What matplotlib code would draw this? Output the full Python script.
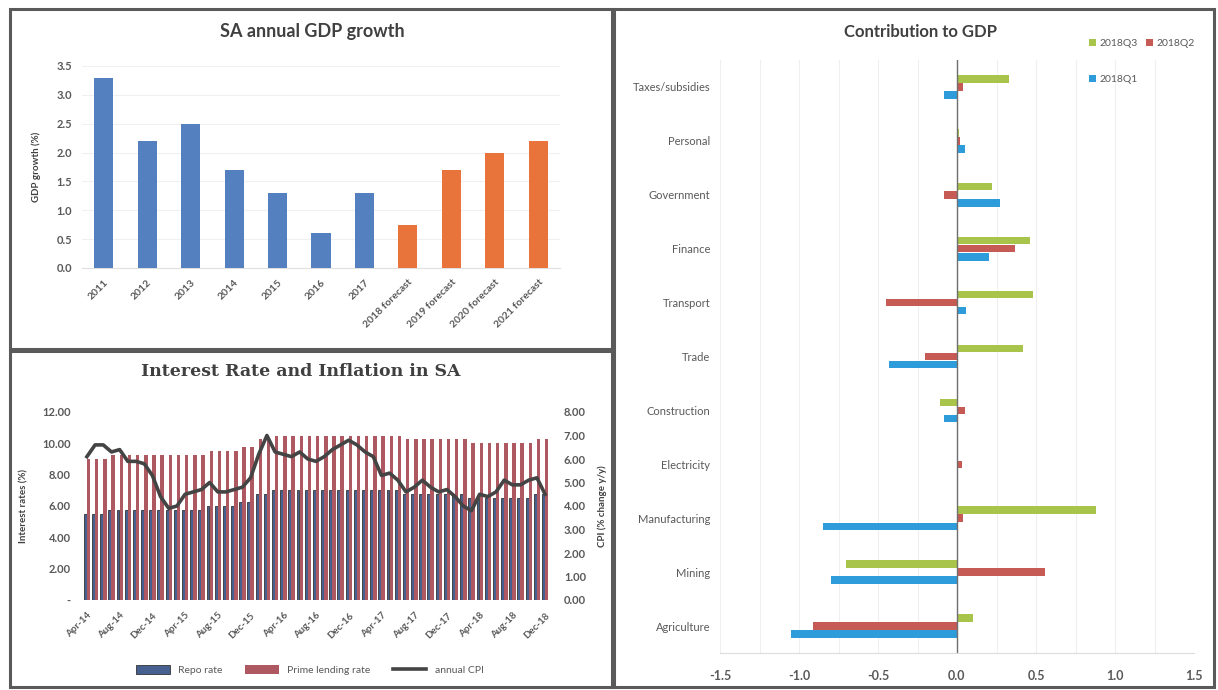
import matplotlib
matplotlib.use("Agg")
import matplotlib.pyplot as plt
import numpy as np
from matplotlib.patches import Rectangle

# ---------------- data ----------------
gdp_years = ["2011", "2012", "2013", "2014", "2015", "2016", "2017",
             "2018 forecast", "2019 forecast", "2020 forecast", "2021 forecast"]
gdp_growth = [3.3, 2.2, 2.5, 1.7, 1.3, 0.6, 1.3, 0.75, 1.7, 2.0, 2.2]
gdp_forecast = [False] * 7 + [True] * 4

# monthly, Apr-2014 .. Dec-2018
repo_rate = [5.50, 5.50, 5.50, 5.75, 5.75, 5.75, 5.75, 5.75, 5.75,
             5.75, 5.75, 5.75, 5.75, 5.75, 5.75, 6.00, 6.00, 6.00, 6.00, 6.25, 6.25,
             6.75, 6.75, 7.00, 7.00, 7.00, 7.00, 7.00, 7.00, 7.00, 7.00, 7.00, 7.00,
             7.00, 7.00, 7.00, 7.00, 7.00, 7.00, 6.75, 6.75, 6.75, 6.75, 6.75, 6.75,
             6.75, 6.75, 6.50, 6.50, 6.50, 6.50, 6.50, 6.50, 6.50, 6.50, 6.75, 6.75]
prime_rate = [9.00, 9.00, 9.00, 9.25, 9.25, 9.25, 9.25, 9.25, 9.25,
              9.25, 9.25, 9.25, 9.25, 9.25, 9.25, 9.50, 9.50, 9.50, 9.50, 9.75, 9.75,
              10.25, 10.25, 10.50, 10.50, 10.50, 10.50, 10.50, 10.50, 10.50, 10.50, 10.50, 10.50,
              10.50, 10.50, 10.50, 10.50, 10.50, 10.50, 10.25, 10.25, 10.25, 10.25, 10.25, 10.25,
              10.25, 10.25, 10.00, 10.00, 10.00, 10.00, 10.00, 10.00, 10.00, 10.00, 10.25, 10.25]
annual_cpi = [6.1, 6.6, 6.6, 6.3, 6.4, 5.9, 5.9, 5.8, 5.3,
              4.4, 3.9, 4.0, 4.5, 4.6, 4.7, 5.0, 4.6, 4.6, 4.7, 4.8, 5.2,
              6.2, 7.0, 6.3, 6.2, 6.1, 6.3, 6.0, 5.9, 6.1, 6.4, 6.6, 6.8,
              6.6, 6.3, 6.1, 5.3, 5.4, 5.1, 4.6, 4.8, 5.1, 4.8, 4.6, 4.7,
              4.4, 4.0, 3.8, 4.5, 4.4, 4.6, 5.1, 4.9, 4.9, 5.1, 5.2, 4.5]
month_labels = ["Apr-14", "Aug-14", "Dec-14", "Apr-15", "Aug-15", "Dec-15", "Apr-16",
                "Aug-16", "Dec-16", "Apr-17", "Aug-17", "Dec-17", "Apr-18", "Aug-18", "Dec-18"]

sectors = ["Agriculture", "Mining", "Manufacturing", "Electricity", "Construction",
           "Trade", "Transport", "Finance", "Government", "Personal", "Taxes/subsidies"]
contrib_q3 = [0.10, -0.70, 0.88, 0.00, -0.11, 0.42, 0.48, 0.46, 0.22, 0.01, 0.33]
contrib_q2 = [-0.91, 0.56, 0.04, 0.03, 0.05, -0.20, -0.45, 0.37, -0.08, 0.02, 0.04]
contrib_q1 = [-1.05, -0.80, -0.85, 0.00, -0.08, -0.43, 0.06, 0.20, 0.27, 0.05, -0.08]

# ---------------- figure ----------------
W, H = 1218, 690
plt.rcParams['font.family'] = ['Lato', 'DejaVu Sans']
fig = plt.figure(figsize=(W / 100, H / 100), dpi=100)
fig.patch.set_facecolor('white')

TXT = '#404040'
TICK = '#595959'


def ax_px(l, t, r, b):
    return fig.add_axes([l / W, 1 - b / H, (r - l) / W, (b - t) / H])


def ftext(x, y, s, **kw):
    return fig.text(x / W, 1 - y / H, s, **kw)


def frame(x0, y0, x1, y1):
    fig.patches.append(Rectangle((x0 / W, 1 - y1 / H), (x1 - x0) / W, (y1 - y0) / H,
                                 transform=fig.transFigure, fill=False,
                                 ec='#5a5a5a', lw=2.2, zorder=10))


frame(10, 9, 612, 349)
frame(10, 351, 612, 687)
frame(614, 9, 1214, 687)

# ---------------- SA annual GDP growth ----------------
ax1 = ax_px(82, 66, 560, 268)
x = np.arange(len(gdp_years))
cols = ['#E8743B' if f else '#5580C0' for f in gdp_forecast]
ax1.bar(x, gdp_growth, width=0.44, color=cols, zorder=3)
ax1.set_xlim(-0.5, len(gdp_years) - 0.5)
ax1.set_ylim(0, 3.5)
ax1.set_yticks(np.arange(0, 3.51, 0.5))
ax1.set_yticklabels([f"{v:.1f}" for v in np.arange(0, 3.51, 0.5)],
                    fontsize=8, color=TICK, fontweight='bold')
ax1.yaxis.grid(True, color='#f0f0f0', lw=0.8, zorder=0)
ax1.set_xticks(x)
ax1.set_xticklabels(gdp_years, rotation=45, ha='right', rotation_mode='anchor',
                    fontsize=7.5, color=TICK, fontweight='bold')
ax1.tick_params(length=0, pad=7)
for s in ax1.spines.values():
    s.set_visible(False)
ax1.spines['bottom'].set_visible(True)
ax1.spines['bottom'].set_color('#e0e0e0')
ax1.set_ylabel("GDP growth (%)", fontsize=7, fontweight='bold', color=TXT, labelpad=11)
ftext(312, 32, "SA annual GDP growth", ha='center', va='center',
      fontsize=13, fontweight='bold', color=TXT)

# ---------------- Interest rate and inflation ----------------
ax2 = ax_px(82, 412, 550, 600)
m = np.arange(len(repo_rate))
b_repo = ax2.bar(m - 0.2, repo_rate, width=0.36, color='#46618f',
                 edgecolor='#333333', linewidth=0.6, zorder=2, label="Repo rate")
b_prime = ax2.bar(m + 0.2, prime_rate, width=0.42, color='#AE5862',
                  linewidth=0, zorder=2, label="Prime lending rate")
ax2.set_xlim(-0.6, len(repo_rate) - 0.4)
ax2.set_ylim(0, 12)
ax2.set_yticks(np.arange(0, 12.1, 2))
ax2.set_yticklabels(["-"] + [f"{v:.2f}" for v in np.arange(2, 12.1, 2)],
                    fontsize=8, color=TICK, fontweight='bold')
ax2.set_xticks(np.arange(0, len(repo_rate), 4))
ax2.set_xticklabels(month_labels, rotation=45, ha='right', rotation_mode='anchor',
                    fontsize=7, color=TICK, fontweight='bold')
ax2.tick_params(length=0, pad=8)
for s in ax2.spines.values():
    s.set_visible(False)
ax2.set_ylabel("Interest rates (%)", fontsize=7, fontweight='bold', color=TXT, labelpad=10)

ax2r = ax2.twinx()
l_cpi, = ax2r.plot(m, annual_cpi, color='#444444', lw=2.6, zorder=5, label="annual CPI")
ax2r.set_ylim(0, 8)
ax2r.set_yticks(np.arange(0, 8.1, 1))
ax2r.set_yticklabels([f"{v:.2f}" for v in np.arange(0, 8.1, 1)],
                     fontsize=8, color=TICK, fontweight='bold')
ax2r.tick_params(length=0, pad=10)
for s in ax2r.spines.values():
    s.set_visible(False)
ax2r.set_ylabel("CPI (% change y/y)", fontsize=7, fontweight='bold', color=TXT, labelpad=8)

ftext(301, 372, "Interest Rate and Inflation in SA", ha='center', va='center',
      fontsize=12.5, fontweight='bold', color=TXT, family=['DejaVu Serif'])
fig.legend([b_repo, b_prime, l_cpi], ["Repo rate", "Prime lending rate", "annual CPI"],
           loc='center', bbox_to_anchor=(310 / W, 1 - 670 / H), ncol=3, frameon=False,
           fontsize=7.5, handlelength=3.2, handleheight=0.9, columnspacing=2.2,
           labelcolor=TICK)

# ---------------- Contribution to GDP ----------------
ax3 = ax_px(720, 60, 1194, 653)
y = np.arange(len(sectors))
h = 0.14
bg = ax3.barh(y + 0.15, contrib_q3, height=h, color='#A9C44B', zorder=3, label="2018Q3")
br = ax3.barh(y, contrib_q2, height=h, color='#C65A55', zorder=3, label="2018Q2")
bb = ax3.barh(y - 0.15, contrib_q1, height=h, color='#2E9BDA', zorder=3, label="2018Q1")
ax3.set_xlim(-1.5, 1.5)
ax3.set_ylim(-0.5, len(sectors) - 0.5)
ax3.set_xticks(np.arange(-1.5, 1.51, 0.5))
ax3.set_xticklabels([f"{v:.1f}" for v in np.arange(-1.5, 1.51, 0.5)],
                    fontsize=9, color=TICK, fontweight='bold')
ax3.set_xticks(np.arange(-1.5, 1.51, 0.25), minor=True)
ax3.xaxis.grid(True, which='both', color='#efefef', lw=0.8, zorder=0)
ax3.set_yticks(y)
ax3.set_yticklabels(sectors, fontsize=8, color=TICK)
ax3.tick_params(axis='y', length=0, pad=7)
ax3.tick_params(axis='x', which='both', length=0, pad=12)
for s in ax3.spines.values():
    s.set_visible(False)
ax3.spines['bottom'].set_visible(True)
ax3.spines['bottom'].set_color('#dcdcdc')
ax3.axvline(0, color='#6f6f6f', lw=1, zorder=4)
ftext(920, 32, "Contribution to GDP", ha='center', va='center',
      fontsize=12, fontweight='bold', color=TXT)
fig.legend([bg, bb, br], ["2018Q3", "2018Q1", "2018Q2"], ncol=2,
           loc='upper left', bbox_to_anchor=(1080 / W, 1 - 30 / H), frameon=False,
           fontsize=7.5, handlelength=0.6, handleheight=0.6, handletextpad=0.4,
           labelspacing=2.6, columnspacing=0.8, labelcolor=TICK)

fig.savefig("out.png", dpi=100, facecolor='white')
